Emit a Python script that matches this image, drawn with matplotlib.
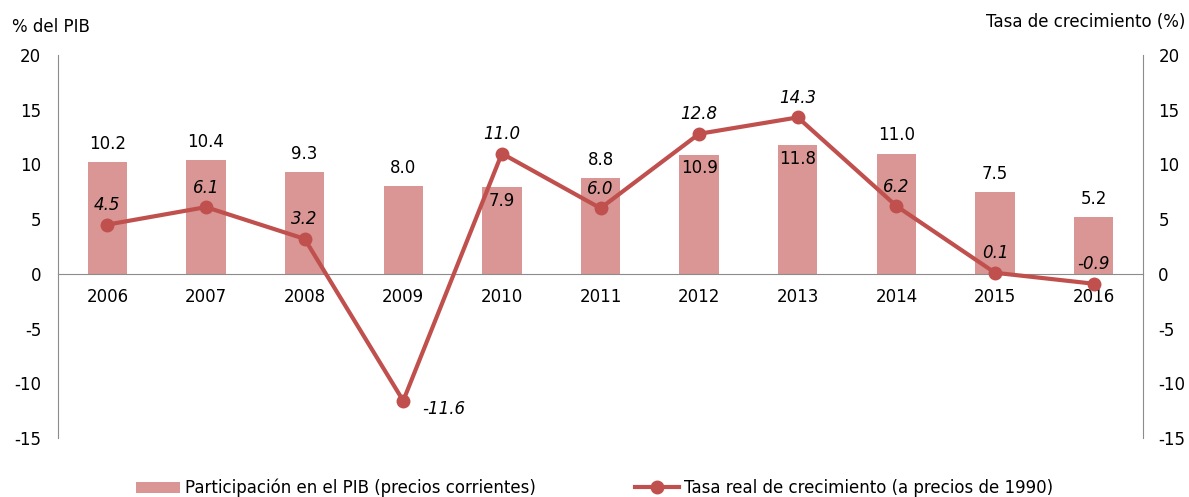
import matplotlib.pyplot as plt
import numpy as np

years = ['2006', '2007', '2008', '2009', '2010', '2011', '2012', '2013', '2014', '2015', '2016']
share_gdp = [10.2, 10.4, 9.3, 8.0, 7.9, 8.8, 10.9, 11.8, 11.0, 7.5, 5.2]
growth = [4.5, 6.1, 3.2, -11.6, 11.0, 6.0, 12.8, 14.3, 6.2, 0.1, -0.9]
# bars whose label sits inside the bar (line label would collide)
inside_labels = ['2010', '2012', '2013']

bar_color = '#D99694'
line_color = '#C0504D'
axis_gray = '#8C8C8C'

plt.rcParams['font.family'] = 'DejaVu Sans'
plt.rcParams['font.size'] = 12
plt.rcParams['axes.unicode_minus'] = False

fig = plt.figure(figsize=(11.89, 4.97), dpi=100)
ax = fig.add_axes([0.0488, 0.1187, 0.9125, 0.7706])
ax2 = ax.twinx()

x = np.arange(len(years))
bars = ax.bar(x, share_gdp, width=0.4, color=bar_color, zorder=2,
              label='Participación en el PIB (precios corrientes)')
line, = ax2.plot(x, growth, color=line_color, lw=3, marker='o', markersize=9,
                 zorder=3, label='Tasa real de crecimiento (a precios de 1990)')

for a in (ax, ax2):
    a.set_ylim(-15, 20)
    a.set_yticks(range(-15, 21, 5))
    a.set_xlim(-0.5, len(years) - 0.5)
    a.spines['top'].set_visible(False)
ax.tick_params(axis='y', length=0, pad=12, labelsize=12)
ax2.tick_params(axis='y', length=0, pad=11, labelsize=12)

ax.spines['left'].set_color(axis_gray)
ax.spines['right'].set_visible(False)
ax2.spines['right'].set_color(axis_gray)
ax2.spines['left'].set_visible(False)
ax2.spines['bottom'].set_visible(False)
ax.spines['bottom'].set_position(('data', 0))
ax.spines['bottom'].set_color(axis_gray)
ax.set_xticks(x)
ax.set_xticklabels(years)
ax.tick_params(axis='x', length=0, pad=10, labelsize=12)
ax.set_zorder(ax2.get_zorder() - 1)
ax2.patch.set_visible(False)

for xi, yr, v in zip(x, years, share_gdp):
    dy = -10 if yr in inside_labels else 13
    ax.annotate(f'{v:.1f}', (xi, v), xytext=(0, dy), textcoords='offset points',
                ha='center', va='center', fontsize=12)

for xi, v in zip(x, growth):
    if v < -5:
        off, ha = (14, -6), 'left'
    else:
        off, ha = (0, 14), 'center'
    ax2.annotate(f'{v:.1f}', (xi, v), xytext=off, textcoords='offset points',
                 ha=ha, va='center', fontsize=12, style='italic')

fig.text(12 / 1189, 1 - 27 / 497, '% del PIB', ha='left', va='center', fontsize=12)
fig.text(1185 / 1189, 1 - 22 / 497, 'Tasa de crecimiento (%)', ha='right', va='center', fontsize=12)

fig.legend(handles=[bars, line], loc='center', bbox_to_anchor=(0.5, 9 / 497), ncol=2,
           frameon=False, fontsize=12, handlelength=2.6, handletextpad=0.3,
           columnspacing=6)

fig.savefig('out.png', dpi=100)
